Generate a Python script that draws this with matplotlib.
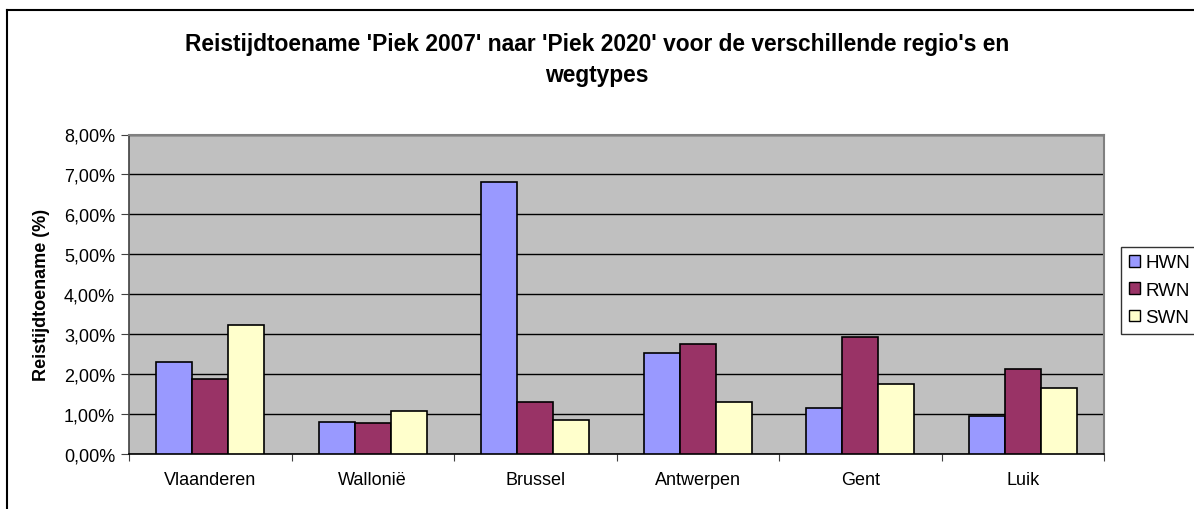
import numpy as np
import matplotlib.pyplot as plt
from matplotlib.patches import Patch
from matplotlib.lines import Line2D

plt.rcParams['font.family'] = ['Liberation Sans', 'DejaVu Sans']

regions = ['Vlaanderen', 'Wallonië', 'Brussel', 'Antwerpen', 'Gent', 'Luik']
series = ['HWN', 'RWN', 'SWN']
hwn = [2.31, 0.81, 6.82, 2.53, 1.14, 0.94]
rwn = [1.87, 0.78, 1.29, 2.76, 2.94, 2.13]
swn = [3.23, 1.07, 0.84, 1.29, 1.76, 1.65]
colors = ['#9999FF', '#993366', '#FFFFCC']

fig = plt.figure(figsize=(11.94, 5.10), dpi=100)
ax = fig.add_axes([129/1194, 1 - 455/510, (1104 - 129)/1194, (455 - 135.5)/510])
ax.set_facecolor('#C0C0C0')

x = np.arange(len(regions))
w = 1 / 4.5
for i, (vals, c) in enumerate(zip([hwn, rwn, swn], colors)):
    ax.bar(x + (i - 1) * w, vals, width=w, color=c, edgecolor='black',
           linewidth=1.2, label=series[i], zorder=3)

ax.set_ylim(0, 8)
ax.set_xlim(-0.5, 5.5)
ax.set_yticks(np.arange(0, 9, 1))
ax.yaxis.set_major_formatter(plt.FuncFormatter(lambda v, p: ('%.2f%%' % v).replace('.', ',')))
ax.tick_params(axis='y', labelsize=13)
ax.grid(axis='y', color='black', linewidth=1.0, zorder=1)
ax.set_axisbelow(True)

# category labels in the middle, tick marks between categories
ax.set_xticks(np.arange(-0.5, 6, 1))
ax.set_xticklabels([])
ax.set_xticks(x, minor=True)
ax.set_xticklabels(regions, minor=True, fontsize=13)
ax.tick_params(axis='x', which='minor', length=0, pad=12)
ax.tick_params(axis='x', which='major', length=5, color='#404040')
ax.tick_params(axis='y', length=6, color='#404040', pad=4)

for s in ['top', 'right']:
    ax.spines[s].set_color('#808080')
    ax.spines[s].set_linewidth(1.5)
ax.spines['left'].set_color('#404040')
ax.spines['left'].set_linewidth(1.2)
ax.spines['bottom'].set_color('black')
ax.spines['bottom'].set_linewidth(1.2)

ax.set_ylabel('Reistijdtoename (%)', fontsize=13, fontweight='bold', labelpad=10)
fig.text(0.5, 1 - 60/510, "Reistijdtoename 'Piek 2007' naar 'Piek 2020' voor de verschillende regio's en\nwegtypes",
         ha='center', va='center', fontsize=16.4, fontweight='bold', linespacing=1.4)

handles = [Patch(facecolor=c, edgecolor='black', linewidth=1.0) for c in colors]
leg = fig.legend(handles, series, loc='upper left', bbox_to_anchor=(1121/1194, 1 - 248/510),
                 fontsize=13.5, frameon=True, fancybox=False, edgecolor='black',
                 handlelength=0.6, handleheight=0.6, handletextpad=0.3,
                 borderpad=0.4, labelspacing=0.55, borderaxespad=0)
leg.get_frame().set_linewidth(1.0)

# outer chart frame
fig.add_artist(Line2D([7/1194, 7/1194], [0, 1 - 11/510], transform=fig.transFigure,
                      color='black', linewidth=1.5))
fig.add_artist(Line2D([7/1194, 1], [1 - 11/510, 1 - 11/510], transform=fig.transFigure,
                      color='black', linewidth=1.5))

fig.savefig('out.png', dpi=100)
